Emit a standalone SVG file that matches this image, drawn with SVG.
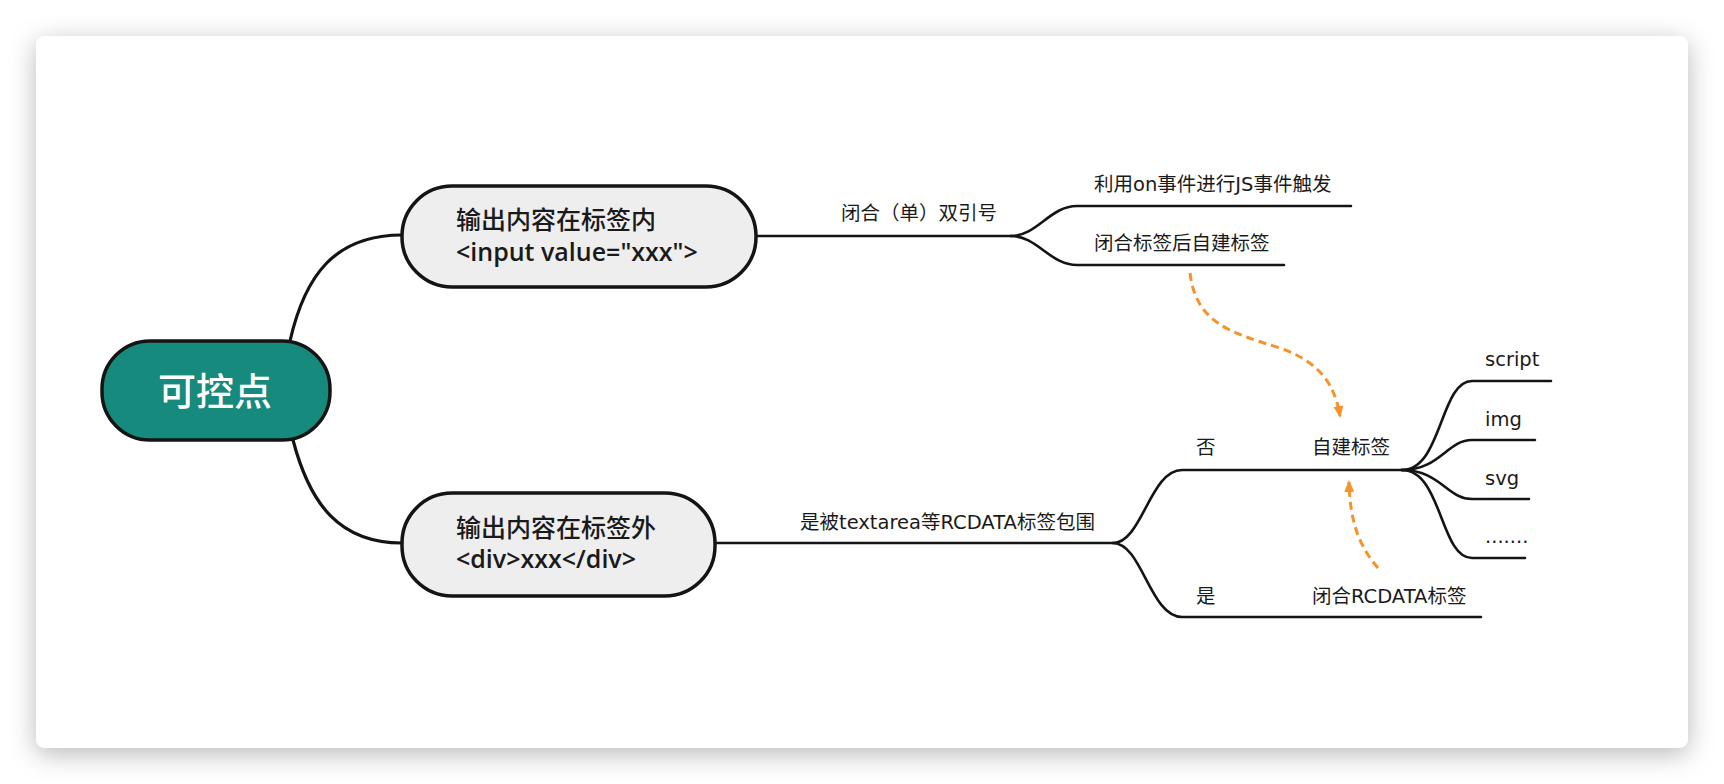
<svg xmlns="http://www.w3.org/2000/svg" width="1724" height="784" viewBox="0 0 1724 784">
  <defs>
    <filter id="shadow" x="-10%" y="-15%" width="120%" height="135%">
      <feDropShadow dx="0" dy="6" stdDeviation="13" flood-color="#000" flood-opacity="0.28"/>
    </filter>
    <marker id="arr" viewBox="0 0 12 10" refX="10" refY="5" markerWidth="12" markerHeight="10" markerUnits="userSpaceOnUse" orient="auto">
      <path d="M0,0 L12,5 L0,10 z" fill="#F5922A"/>
    </marker>
  </defs>
  <style>
    .lbl { font-family: "DejaVu Sans", "Noto Sans CJK SC", sans-serif; font-size: 19.5px; fill: #1a1a1a; }
    .ntxt { font-family: "Open Sans", "Noto Sans CJK SC", sans-serif; font-size: 25px; fill: #1a1a1a; }
    .cjk { font-family: "Noto Sans CJK SC", sans-serif; font-weight: 500; }
    .lat { font-weight: 600; }
    .node { fill: #eeeeee; stroke: #141414; stroke-width: 3.5; }
    .line { fill: none; stroke: #141414; stroke-width: 2.6; stroke-linecap: round; }
    .thick { fill: none; stroke: #141414; stroke-width: 3.2; }
    .dash { fill: none; stroke: #F5922A; stroke-width: 3; stroke-dasharray: 8 5; }
  </style>
  <rect x="0" y="0" width="1724" height="784" fill="#ffffff"/>
  <rect x="36" y="36" width="1652" height="712" rx="9" fill="#ffffff" filter="url(#shadow)"/>

  <g id="connectors">
    <path class="thick" d="M290,341 C305,275 335,235 402,235"/>
    <path class="thick" d="M293,440 C310,505 340,543 402,543"/>
    <path class="line" d="M756,236 H1011"/>
    <path class="line" d="M1011,236 C1037,236 1050,206 1077,206 H1351"/>
    <path class="line" d="M1011,236 C1037,236 1050,265 1077,265 H1284"/>
    <path class="line" d="M715,543 H1113"/>
    <path class="line" d="M1113,543 C1142,543 1150,470 1182,470 H1402"/>
    <path class="line" d="M1113,543 C1142,543 1150,617 1182,617 H1481"/>
    <path class="line" d="M1402,470 C1442,470 1440,381 1472,381 H1551"/>
    <path class="line" d="M1402,470 C1440,470 1447,440 1472,440 H1535"/>
    <path class="line" d="M1402,470 C1440,470 1447,499 1472,499 H1529"/>
    <path class="line" d="M1402,470 C1442,470 1440,558 1472,558 H1525"/>
    <path class="dash" d="M1190,273 C1196,322 1228,332 1280,348 C1320,362 1335,385 1340,416" marker-end="url(#arr)"/>
    <path class="dash" d="M1378,568 C1358,545 1350,520 1349,482" marker-end="url(#arr)"/>
  </g>

  <g id="root">
    <rect x="102" y="341" width="228" height="99" rx="48" fill="#168A7C" stroke="#141414" stroke-width="3.5"/>
    <text x="215" y="405" text-anchor="middle" font-family="Noto Sans CJK SC, sans-serif" font-weight="500" font-size="38" fill="#ffffff">可控点</text>
  </g>

  <g id="node-inside">
    <rect class="node" x="402" y="186" width="354" height="101" rx="50"/>
    <text class="ntxt" x="456" y="229"><tspan class="cjk">输出内容在标签内</tspan></text>
    <text class="ntxt lat" x="456" y="261">&lt;input value="xxx"&gt;</text>
  </g>

  <g id="node-outside">
    <rect class="node" x="402" y="493" width="313" height="103" rx="50"/>
    <text class="ntxt" x="456" y="537"><tspan class="cjk">输出内容在标签外</tspan></text>
    <text class="ntxt lat" x="456" y="568">&lt;div&gt;xxx&lt;/div&gt;</text>
  </g>

  <g id="close-quotes"><text class="lbl" x="841" y="220">闭合（单）双引号</text></g>
  <g id="on-event"><text class="lbl" x="1094" y="191">利用on事件进行JS事件触发</text></g>
  <g id="close-tag-self"><text class="lbl" x="1094" y="250">闭合标签后自建标签</text></g>
  <g id="rcdata-q"><text class="lbl" x="800" y="529">是被textarea等RCDATA标签包围</text></g>
  <g id="no"><text class="lbl" x="1196" y="454">否</text></g>
  <g id="self-tag"><text class="lbl" x="1312" y="454">自建标签</text></g>
  <g id="yes"><text class="lbl" x="1196" y="603">是</text></g>
  <g id="close-rcdata"><text class="lbl" x="1312" y="603">闭合RCDATA标签</text></g>
  <g id="script"><text class="lbl" x="1485" y="366">script</text></g>
  <g id="img"><text class="lbl" x="1485" y="426">img</text></g>
  <g id="svg"><text class="lbl" x="1485" y="485">svg</text></g>
  <g id="more"><text class="lbl" x="1485" y="543">.......</text></g>
</svg>
